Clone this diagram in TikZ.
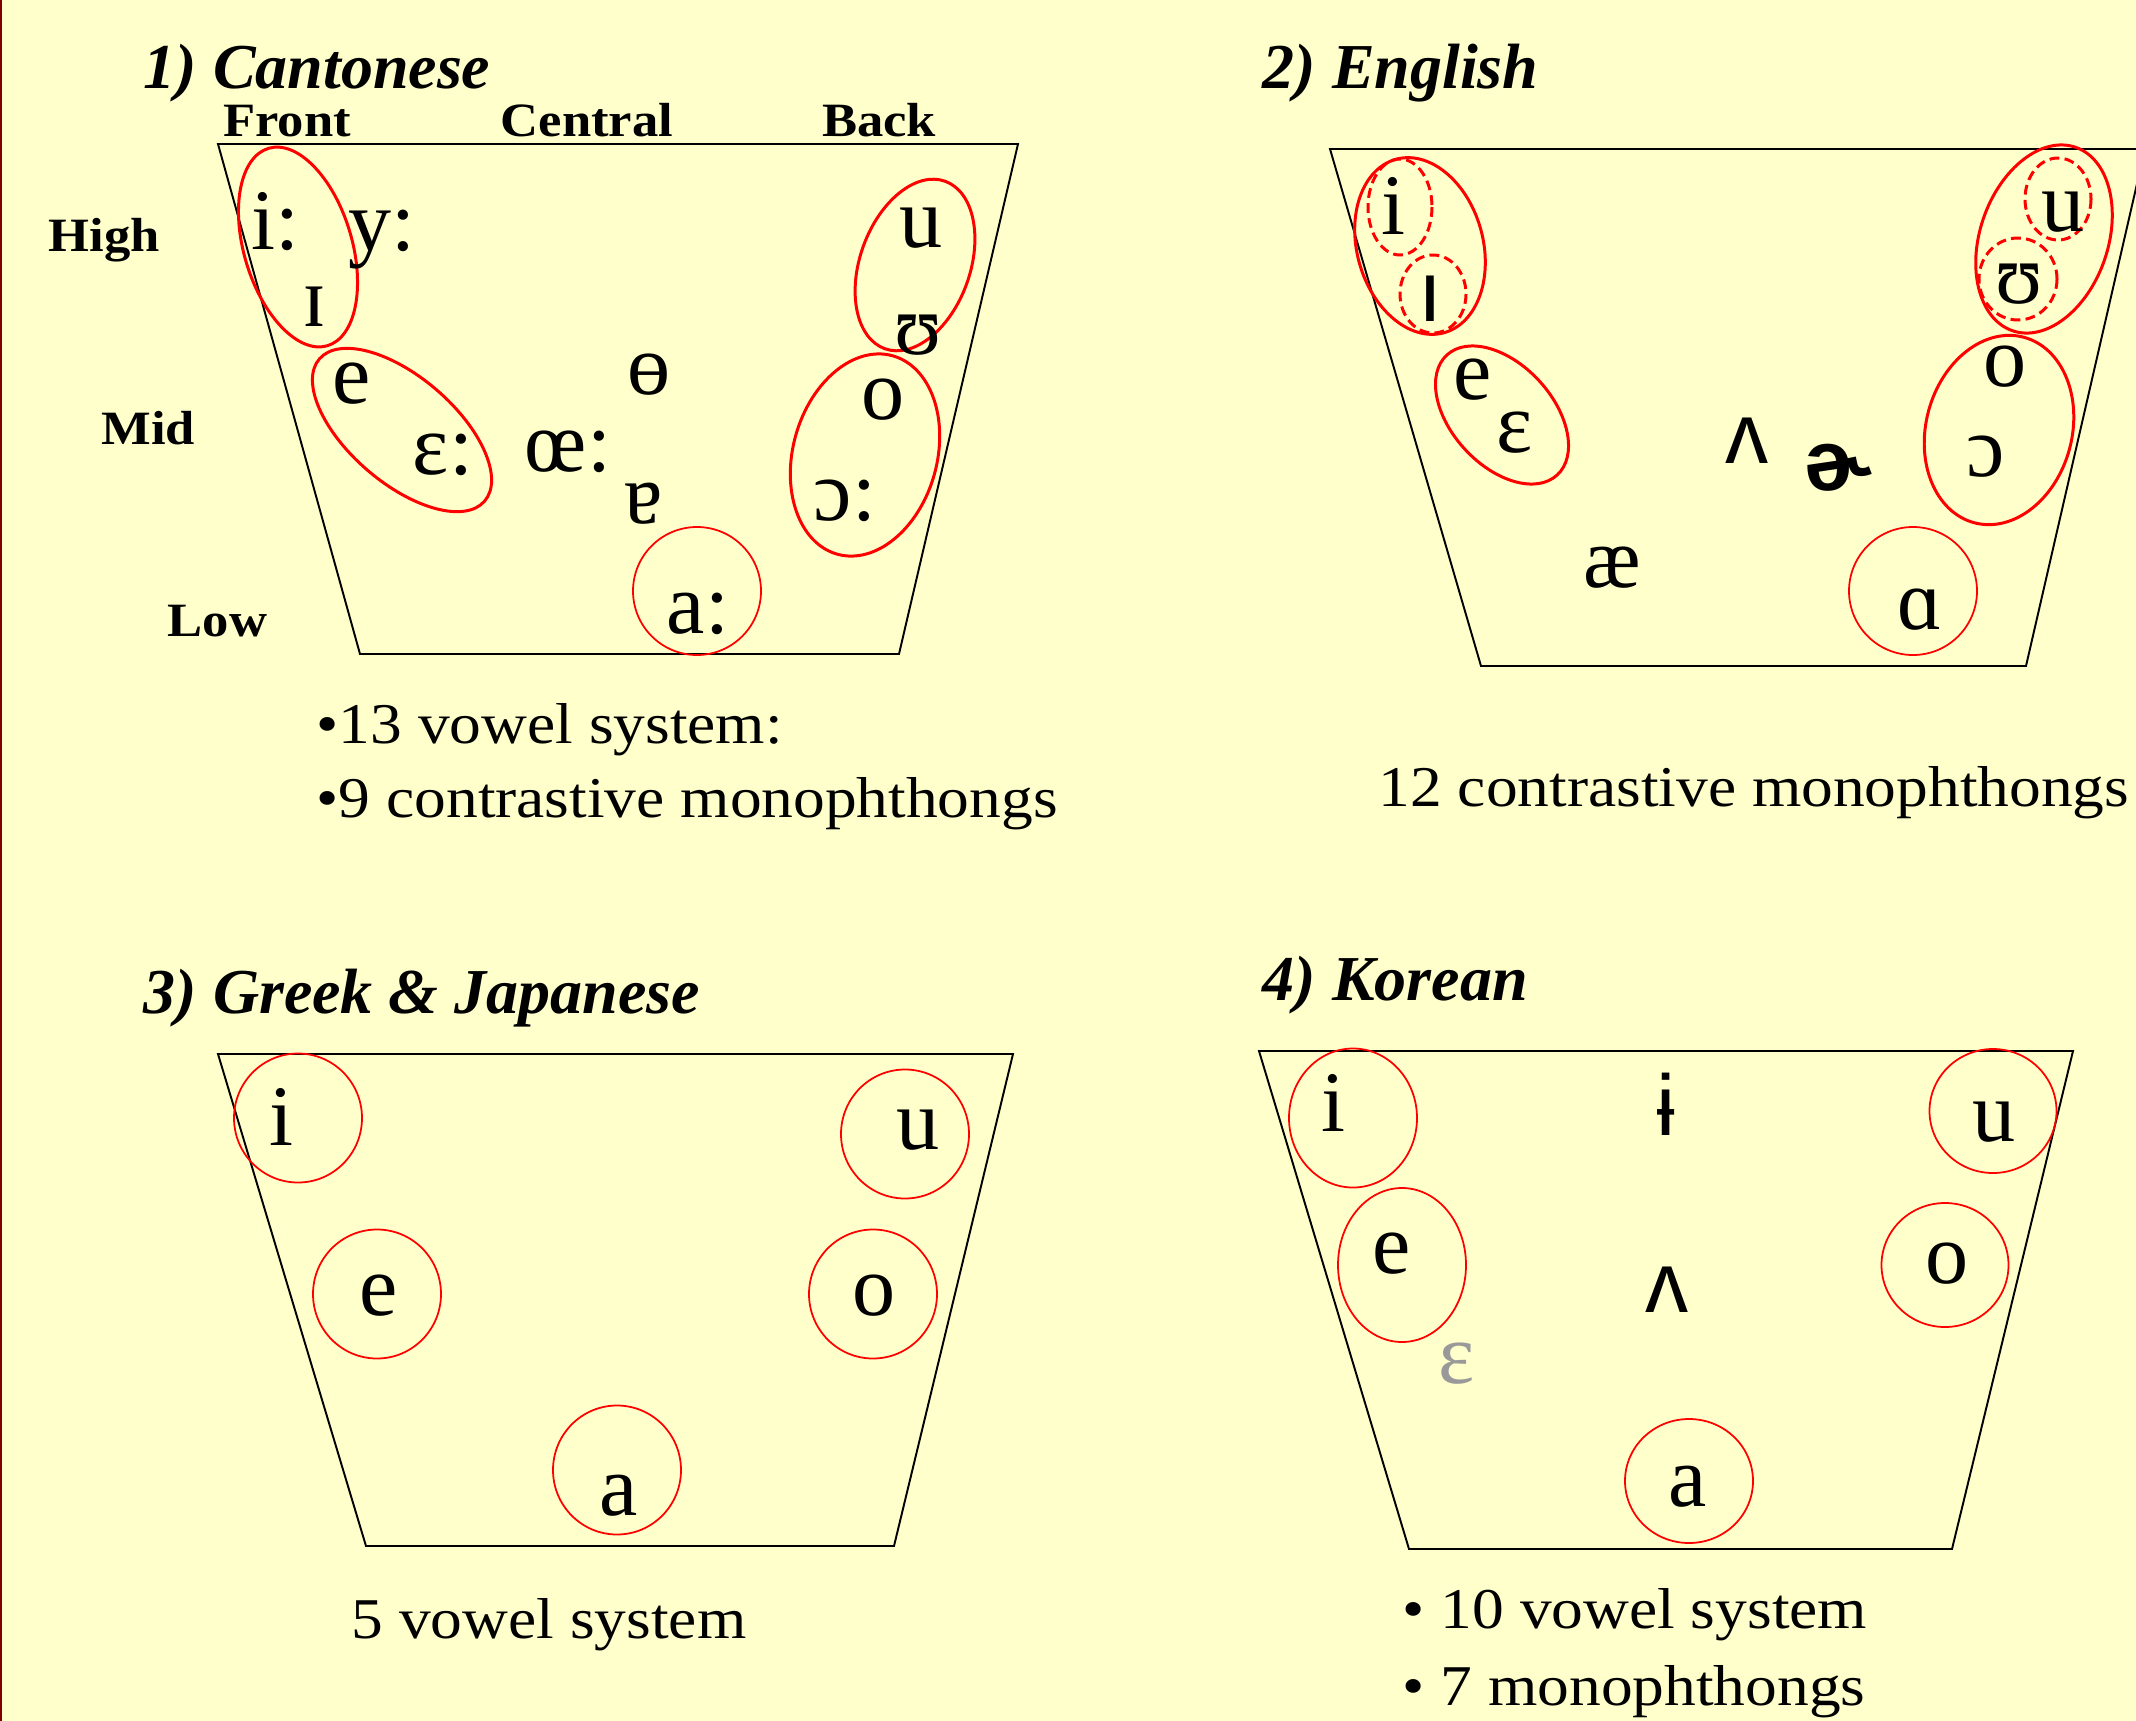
\documentclass[tikz,border=0pt]{standalone}
\usepackage{fontspec}
\setmainfont{Liberation Serif}
\newfontfamily\widefont{Liberation Serif}[FakeStretch=1.1]
\newfontfamily\ipasans{Liberation Sans}
\usepackage{xcolor}
\definecolor{slidebg}{HTML}{FFFFCC}
\definecolor{slideedge}{HTML}{800000}
\definecolor{ringred}{HTML}{FF0000}
\definecolor{fadedvowel}{HTML}{999999}

\begin{document}
\begin{tikzpicture}[x=0.01cm, y=-0.01cm,
  chart/.style={draw=black, line width=0.55pt},
  ring/.style={draw=ringred, line width=0.85pt},
  thinring/.style={draw=ringred, line width=0.5pt},
  dashring/.style={ring, dash pattern=on 2.8pt off 1.5pt},
  vowel/.style={inner sep=0pt, font=\fontsize{24.5}{28}\selectfont},
  sansvowel/.style={inner sep=0pt, font=\ipasans\fontsize{24.5}{28}\selectfont},
  title/.style={inner sep=0pt, anchor=base west, font=\fontsize{18.2}{21}\selectfont\bfseries\itshape},
  axis/.style={inner sep=0pt, font=\widefont\bfseries\fontsize{13.6}{16}\selectfont},
  caption/.style={inner sep=0pt, anchor=base west, font=\widefont\fontsize{16.4}{19}\selectfont}
]
  \path[use as bounding box, fill=slidebg] (0,0) rectangle (2136,1721);
  \clip (0,0) rectangle (2136,1721);
  \fill[slideedge] (0,0) rectangle (2.5,1721);

  % 1) Cantonese
  \node[title] (t1) at (143,88) {1) Cantonese};
  \node[axis, anchor=base] (front) at (287,136) {Front};
  \node[axis, anchor=base] (central) at (587,136) {Central};
  \node[axis, anchor=base] (back) at (879,136) {Back};
  \node[axis, anchor=base west] (high) at (48,251) {High};
  \node[axis, anchor=base west] (mid) at (101,444) {Mid};
  \node[axis, anchor=base west] (low) at (167,636) {Low};
  \draw[chart] (218,144) -- (1018,144) -- (899,654) -- (360,654) -- cycle;
  \draw[ring] (298,247) ellipse [x radius=54, y radius=103, rotate=16.6];
  \draw[ring] (402,430) ellipse [x radius=109, y radius=53, rotate=-40.7];
  \draw[ring] (915,265) ellipse [x radius=55, y radius=89, rotate=-19.8];
  \draw[ring] (865,455) ellipse [x radius=72, y radius=103, rotate=-15.6];
  \draw[thinring] (697,591) circle [radius=64];
  \node[vowel] (c-i) at (275,222) {i:};
  \node[vowel] (c-y) at (382,240) {y:};
  \node[vowel] (c-ih) at (314,307) {ɪ};
  \node[vowel] (c-u) at (921,228) {u};
  \node[vowel] (c-uh) at (918,335) {ʊ};
  \node[vowel] (c-e) at (352,384) {e};
  \node[vowel] (c-eh) at (443,455) {ɛ:};
  \node[vowel] (c-oe) at (568,452) {œ:};
  \node[vowel] (c-bo) at (649,375) {ɵ};
  \node[vowel] (c-ta) at (644,504) {ɐ};
  \node[vowel] (c-o) at (883,400) {o};
  \node[vowel] (c-oh) at (845,501) {ɔ:};
  \node[vowel] (c-a) at (698,614) {a:};
  \node[caption] (c-note1) at (316,743) {•13 vowel system:};
  \node[caption] (c-note2) at (316,817) {•9 contrastive monophthongs};

  % 2) English
  \node[title] (t2) at (1262,88) {2) English};
  \draw[chart] (1330,149) -- (2145,149) -- (2026,666) -- (1481,666) -- cycle;
  \draw[ring] (1420,246) ellipse [x radius=63, y radius=90, rotate=15.5];
  \draw[dashring] (1400,207) ellipse [x radius=32, y radius=48];
  \draw[dashring] (1433,294) ellipse [x radius=33, y radius=39];
  \draw[ring] (2044,239) ellipse [x radius=64, y radius=97, rotate=-19];
  \draw[dashring] (2058,199) ellipse [x radius=33, y radius=41];
  \draw[dashring] (2018,279) ellipse [x radius=39, y radius=41];
  \draw[ring] (1502,415) ellipse [x radius=50.5, y radius=81.5, rotate=42.6];
  \draw[ring] (1999,430) ellipse [x radius=73, y radius=96, rotate=-15];
  \draw[thinring] (1913,591) circle [radius=64];
  \node[vowel] (en-i) at (1393,206) {i};
  \node[sansvowel] (en-ih) at (1430,299) {ı};
  \node[vowel] (en-u) at (2063,212) {u};
  \node[vowel] (en-uh) at (2019,284) {ʊ};
  \node[vowel] (en-e) at (1473,380) {e};
  \node[vowel] (en-eh) at (1515,433) {ɛ};
  \node[sansvowel] (en-v) at (1747,441) {ʌ};
  \node[sansvowel, font=\ipasans\bfseries\fontsize{24.5}{28}\selectfont] (en-er) at (1838,468) {ɚ};
  \node[vowel] (en-o) at (2005,367) {o};
  \node[vowel] (en-oh) at (1986,457) {ɔ};
  \node[vowel] (en-ae) at (1612,568) {æ};
  \node[vowel] (en-a) at (1920,610) {ɑ};
  \node[caption] (en-note) at (1378,806) {12 contrastive monophthongs};

  % 3) Greek & Japanese
  \node[title] (t3) at (143,1013) {3) Greek \& Japanese};
  \draw[chart] (218,1054) -- (1013,1054) -- (894,1546) -- (366,1546) -- cycle;
  \draw[thinring] (298,1118) ellipse [x radius=64, y radius=64.5];
  \draw[thinring] (905,1134) ellipse [x radius=64, y radius=64.5];
  \draw[thinring] (377,1294) ellipse [x radius=64, y radius=64.5];
  \draw[thinring] (873,1294) ellipse [x radius=64, y radius=64.5];
  \draw[thinring] (617,1470) ellipse [x radius=64, y radius=64.5];
  \node[vowel] (gj-i) at (281,1117) {i};
  \node[vowel] (gj-u) at (918,1130) {u};
  \node[vowel] (gj-e) at (379,1296) {e};
  \node[vowel] (gj-o) at (874,1296) {o};
  \node[vowel] (gj-a) at (619,1496) {a};
  \node[caption] (gj-note) at (351,1638) {5 vowel system};

  % 4) Korean
  \node[title] (t4) at (1262,1000) {4) Korean};
  \draw[chart] (1259,1051) -- (2073,1051) -- (1952,1549) -- (1409,1549) -- cycle;
  \draw[thinring] (1353,1118) ellipse [x radius=64, y radius=69.5];
  \draw[thinring] (1402,1265) ellipse [x radius=64, y radius=77];
  \draw[thinring] (1993,1111) ellipse [x radius=63.5, y radius=62];
  \draw[thinring] (1945,1265) ellipse [x radius=63.5, y radius=62];
  \draw[thinring] (1689,1481) ellipse [x radius=64, y radius=62];
  \node[vowel] (ko-i) at (1333,1103) {i};
  \node[sansvowel] (ko-bi) at (1666,1104) {ɨ};
  \node[vowel] (ko-u) at (1994,1122) {u};
  \node[vowel] (ko-e) at (1392,1254) {e};
  \node[sansvowel] (ko-v) at (1667,1290) {ʌ};
  \node[vowel] (ko-o) at (1947,1264) {o};
  \node[vowel, text=fadedvowel] (ko-eh) at (1457,1364) {ɛ};
  \node[vowel] (ko-a) at (1688,1487) {a};
  \node[caption] (ko-note1) at (1402,1628) {• 10 vowel system};
  \node[caption] (ko-note2) at (1402,1705) {• 7 monophthongs};
\end{tikzpicture}
\end{document}
